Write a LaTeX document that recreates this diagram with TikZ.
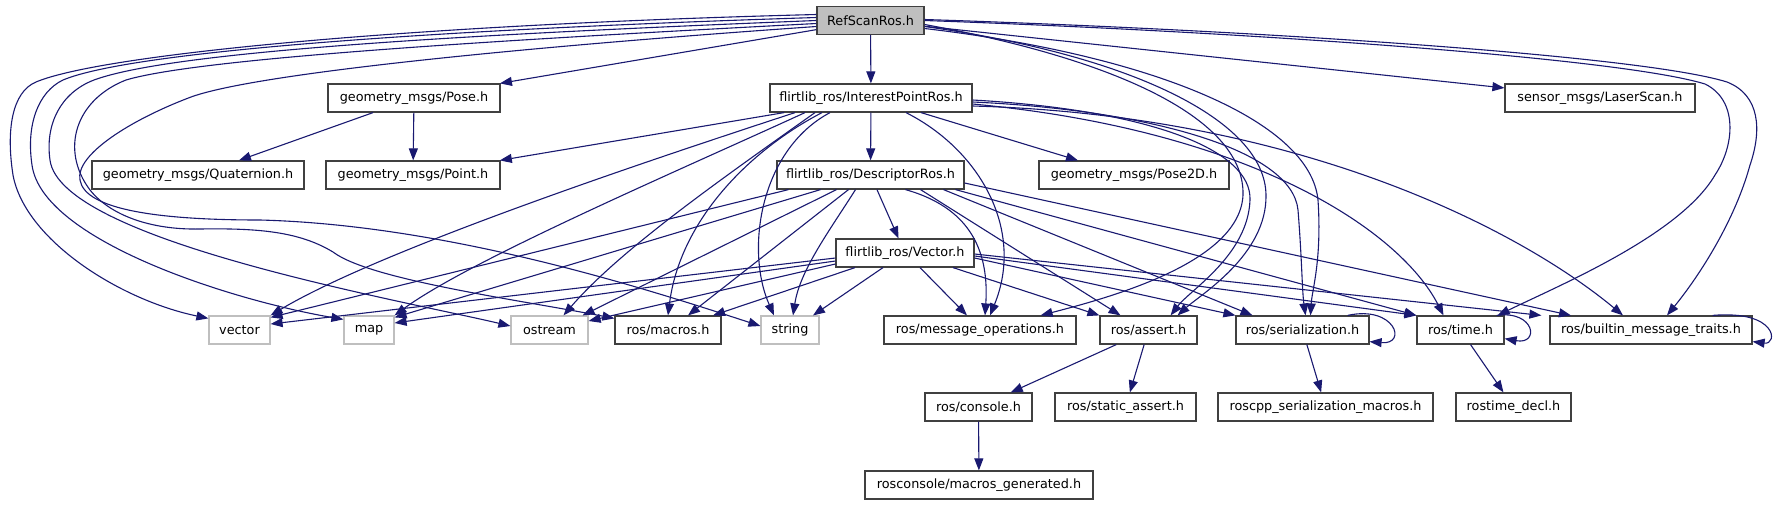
\documentclass[tikz,border=0pt]{standalone}
\usepackage{fontspec}
\setmainfont{DejaVu Sans}
\usetikzlibrary{arrows.meta}
\definecolor{edgecol}{RGB}{25,25,112}
\definecolor{boxcol}{RGB}{64,64,64}
\definecolor{extcol}{RGB}{191,191,191}
\definecolor{refcol}{RGB}{191,191,191}
\begin{document}
\begin{tikzpicture}[x=1pt,y=-1pt,
  box/.style={draw=boxcol, line width=1.2pt, fill=white, minimum height=28pt, inner sep=0pt, font=\fontsize{12.8pt}{15pt}\selectfont},
  ext/.style={box, draw=extcol},
  e/.style={draw=edgecol, line width=1.1pt, -{Triangle[length=12pt,width=9pt]}}]
\useasboundingbox (0,0) rectangle (1780,504);
% nodes
\node[box, fill=refcol, minimum width=107pt] (ref) at (870.5,20.5) {RefScanRos.h};
\node[box, minimum width=172pt] (pose) at (414,98) {geometry\_msgs/Pose.h};
\node[box, minimum width=202pt] (ipr) at (871,98) {flirtlib\_ros/InterestPointRos.h};
\node[box, minimum width=190pt] (laser) at (1600,98) {sensor\_msgs/LaserScan.h};
\node[box, minimum width=212pt] (quat) at (198,175) {geometry\_msgs/Quaternion.h};
\node[box, minimum width=174pt] (point) at (413,175) {geometry\_msgs/Point.h};
\node[box, minimum width=187pt] (desc) at (870.5,175) {flirtlib\_ros/DescriptorRos.h};
\node[box, minimum width=190pt] (pose2d) at (1134,175) {geometry\_msgs/Pose2D.h};
\node[box, minimum width=138pt] (vec) at (905,253) {flirtlib\_ros/Vector.h};
\node[ext, minimum width=61pt] (vector) at (239.5,330) {vector};
\node[ext, minimum width=50pt] (map) at (369,330) {map};
\node[ext, minimum width=77pt] (ostream) at (549.5,330) {ostream};
\node[box, minimum width=106pt] (macros) at (668,330) {ros/macros.h};
\node[ext, minimum width=58pt] (string) at (790,330) {string};
\node[box, minimum width=192pt] (msgops) at (980,330) {ros/message\_operations.h};
\node[box, minimum width=97pt] (assert) at (1148.5,330) {ros/assert.h};
\node[box, minimum width=133pt] (serial) at (1302.5,330) {ros/serialization.h};
\node[box, minimum width=87pt] (time) at (1460.5,330) {ros/time.h};
\node[box, minimum width=202pt] (builtin) at (1651,330) {ros/builtin\_message\_traits.h};
\node[box, minimum width=107pt] (console) at (978.5,407) {ros/console.h};
\node[box, minimum width=141pt] (static) at (1125.5,407) {ros/static\_assert.h};
\node[box, minimum width=215pt] (roscpp) at (1325.5,407) {roscpp\_serialization\_macros.h};
\node[box, minimum width=115pt] (rostime) at (1513.5,407) {rostime\_decl.h};
\node[box, minimum width=228pt] (macgen) at (979,485) {rosconsole/macros\_generated.h};
% RefScanRos edges
\draw[e] (ref) -- (ipr);
\draw[e] (ref) -- (pose);
\draw[e] (ref) -- (laser);
\draw[e] ([yshift=6pt]ref.west) .. controls (400,25) and (100,55) .. (36,82) .. controls (12,92) and (6,130) .. (13,175) .. controls (25,240) and (120,300) .. ([yshift=-3pt]vector.north west);
\draw[e] ([yshift=3pt]ref.west) .. controls (420,30) and (130,52) .. (63,80) .. controls (38,92) and (26,125) .. (32,165) .. controls (42,240) and (230,300) .. ([yshift=-4pt]map.north west);
\draw[e] (ref.west) .. controls (450,35) and (170,52) .. (94,80) .. controls (60,93) and (45,125) .. (50,160) .. controls (60,240) and (400,300) .. ([yshift=4pt]ostream.west);
\draw[e] ([yshift=-3pt]ref.west) .. controls (500,40) and (200,58) .. (126,80) .. controls (75,100) and (60,150) .. (90,190) .. controls (110,215) and (150,230) .. (200,229) .. controls (260,228) and (300,232) .. (333,252) .. controls (370,280) and (520,300) .. ([yshift=-3pt]macros.north west);
\draw[e] ([yshift=-6pt]ref.west) .. controls (550,45) and (260,72) .. (191,97) .. controls (130,120) and (75,155) .. (80,180) .. controls (85,210) and (160,220) .. (260,220) .. controls (450,225) and (650,290) .. ([yshift=4pt]string.west);
\draw[e] ([yshift=1pt]ref.east) .. controls (1250,30) and (1640,55) .. (1727,82) .. controls (1760,95) and (1762,130) .. (1750,165) .. controls (1735,220) and (1700,275) .. ([xshift=16pt]builtin.north);
\draw[e] (ref.east) .. controls (1250,32) and (1620,58) .. (1705,84) .. controls (1738,100) and (1735,145) .. (1715,175) .. controls (1680,235) and (1560,285) .. ([xshift=-7pt]time.north east);
\draw[e] ([yshift=-4pt]ref.east) .. controls (1120,60) and (1245,120) .. (1243,195) .. controls (1240,260) and (1120,295) .. ([xshift=-36pt]msgops.north east);
\draw[e] ([yshift=-6pt]ref.east) .. controls (1130,55) and (1265,120) .. (1266,195) .. controls (1267,255) and (1200,295) .. ([xshift=-20pt]assert.north east);
\draw[e] ([yshift=-8pt]ref.east) .. controls (1150,55) and (1310,120) .. (1318,200) .. controls (1322,260) and (1312,290) .. ([xshift=8pt]serial.north);
% InterestPointRos edges
\draw[e] (ipr) -- (desc);
\draw[e] (ipr) -- (point);
\draw[e] ([xshift=50pt]ipr.south) -- ([xshift=-56pt]pose2d.north);
\draw[e] ([xshift=-76pt]ipr.south) .. controls (650,160) and (380,250) .. (vector.north east);
\draw[e] ([xshift=-66pt]ipr.south) .. controls (680,170) and (470,260) .. (map.north east);
\draw[e] ([xshift=-56pt]ipr.south) .. controls (720,180) and (620,250) .. ([xshift=14pt]ostream.north);
\draw[e] ([xshift=-49pt]ipr.south) .. controls (750,150) and (680,220) .. (macros.north);
\draw[e] ([xshift=-41pt]ipr.south) .. controls (760,150) and (745,250) .. ([xshift=-16pt]string.north);
\draw[e] ([xshift=35pt]ipr.south) .. controls (980,150) and (1025,230) .. ([xshift=10pt]msgops.north);
\draw[e] ([yshift=-2pt]ipr.east) .. controls (1150,110) and (1252,150) .. (1250,200) .. controls (1248,255) and (1190,290) .. ([xshift=-27pt]assert.north east);
\draw[e] ([yshift=-4pt]ipr.east) .. controls (1150,110) and (1292,150) .. (1298,210) .. controls (1302,260) and (1302,290) .. ([xshift=3pt]serial.north);
\draw[e] ([yshift=-6pt]ipr.east) .. controls (1250,130) and (1400,230) .. ([xshift=-17pt]time.north);
\draw[e] ([yshift=-8pt]ipr.east) .. controls (1300,115) and (1520,230) .. ([xshift=-28pt]builtin.north);
% Pose edges
\draw[e] (pose) -- (point);
\draw[e] (pose) -- (quat);
% DescriptorRos edges
\draw[e] (desc) -- (vec);
\draw[e] ([xshift=-82pt]desc.south) -- ([yshift=-2pt]vector.north east);
\draw[e] ([xshift=-50pt]desc.south) -- ([yshift=-2pt]map.north east);
\draw[e] ([xshift=-34pt]desc.south) -- ([xshift=-6pt]ostream.north east);
\draw[e] ([xshift=-22pt]desc.south) -- ([xshift=20pt]macros.north);
\draw[e] ([xshift=-15pt]desc.south) .. controls (830,230) and (800,270) .. ([xshift=3pt]string.north);
\draw[e] ([xshift=35pt]desc.south) .. controls (960,205) and (990,240) .. ([xshift=5pt]msgops.north);
\draw[e] ([xshift=50pt]desc.south) -- ([xshift=-28pt]assert.north);
\draw[e] ([xshift=73pt]desc.south) -- ([xshift=-50pt]serial.north);
\draw[e] ([xshift=85pt]desc.south) -- (time.north west);
\draw[e] ([yshift=-8pt]desc.east) -- ([xshift=-80pt]builtin.north);
% Vector.h edges
\draw[e] ([yshift=-5pt]vec.west) -- ([yshift=6pt]vector.east);
\draw[e] ([yshift=-8pt]vec.west) -- ([yshift=7pt]map.east);
\draw[e] ([yshift=-11pt]vec.west) -- ([yshift=9pt]ostream.east);
\draw[e] ([xshift=-50pt]vec.south) -- ([xshift=45pt]macros.north);
\draw[e] ([xshift=-22pt]vec.south) -- ([xshift=23pt]string.north);
\draw[e] ([xshift=15pt]vec.south) -- ([xshift=-13pt]msgops.north);
\draw[e] ([xshift=48pt]vec.south) -- (assert.north west);
\draw[e] ([yshift=-5pt]vec.east) -- (serial.north west);
\draw[e] ([yshift=-3pt]vec.east) -- (time.north west);
\draw[e] ([yshift=-1pt]vec.east) -- ([xshift=-8pt]builtin.north west);
% lower edges
\draw[e] (assert) -- (console);
\draw[e] (assert) -- (static);
\draw[e] (serial) -- (roscpp);
\draw[e] (time) -- (rostime);
\draw[e] (console) -- (macgen);
% self loops
\draw[e] ([xshift=-22pt]serial.north east) .. controls (1395,305) and (1408,345) .. ([yshift=3pt]serial.south east);
\draw[e] ([xshift=-8pt]time.north east) .. controls (1535,310) and (1540,345) .. ([yshift=6pt]time.south east);
\draw[e] ([xshift=-40pt]builtin.north east) .. controls (1778,310) and (1778,345) .. ([yshift=3pt]builtin.south east);
\end{tikzpicture}
\end{document}
